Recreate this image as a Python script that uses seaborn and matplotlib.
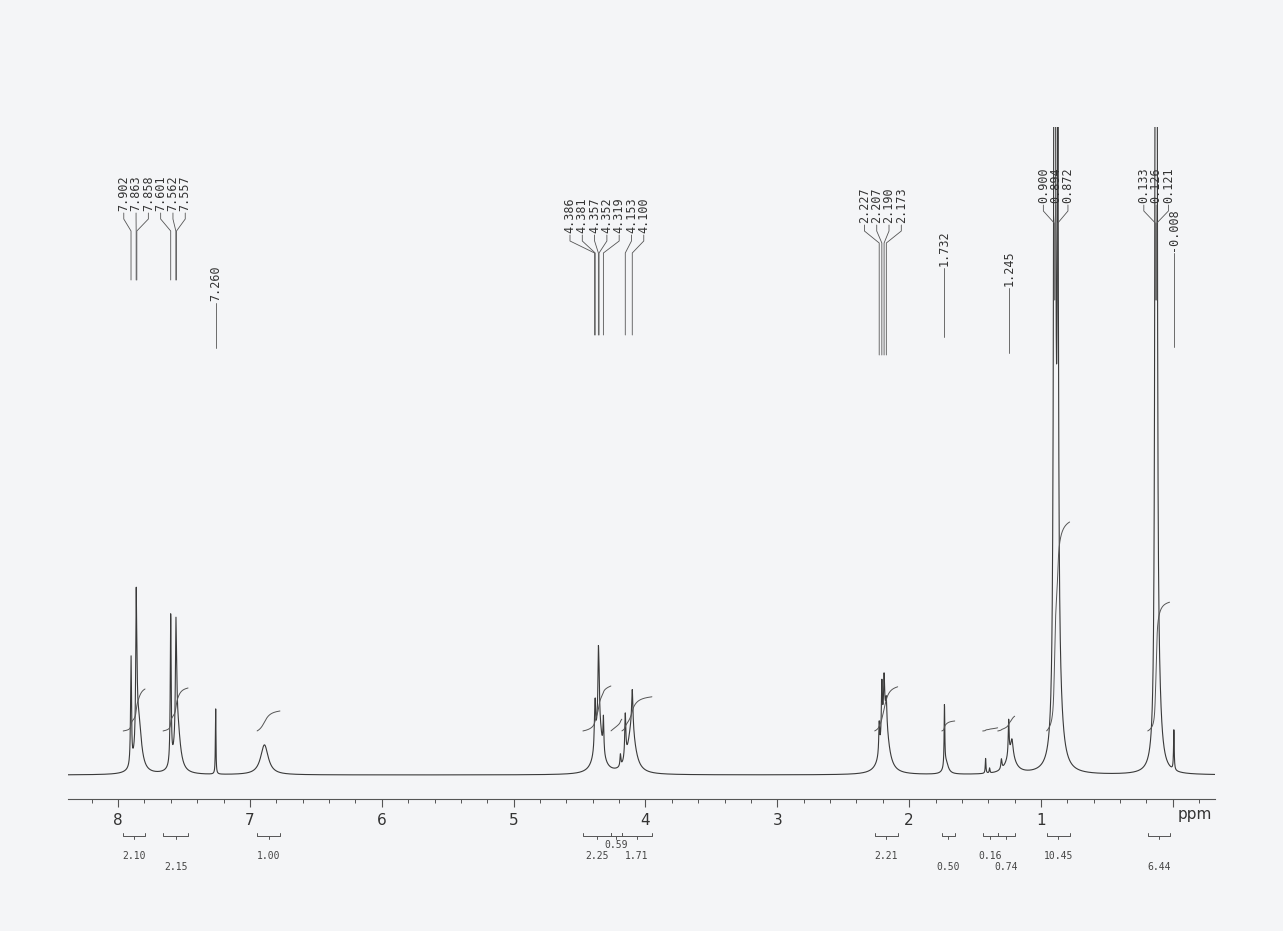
import numpy as np
import pandas as pd
import matplotlib
matplotlib.use("Agg")
import matplotlib.pyplot as plt
import seaborn as sns

# --- peak list (ppm, height in px above baseline, half width in ppm)
peak_ppm = [7.902, 7.863, 7.858, 7.845, 7.601, 7.562, 7.557, 7.55, 7.260, 6.89,
            4.386, 4.381, 4.357, 4.352, 4.319, 4.355, 4.19, 4.153, 4.100, 4.105,
            2.227, 2.207, 2.190, 2.173, 2.185, 1.732, 1.72,
            1.42, 1.39, 1.30, 1.245, 1.22, 1.23,
            0.900, 0.894, 0.872, 0.87, 0.133, 0.126, 0.121, 0.11, -0.008]
peak_height = [110, 130, 40, 55, 150, 95, 40, 50, 66, 30,
               20, 35, 60, 30, 35, 55, 12, 45, 40, 45,
               30, 50, 35, 20, 65, 62, 12,
               15, 5, 10, 35, 15, 20,
               500, 800, 500, 80, 500, 800, 500, 60, 40]
peak_width = [0.004, 0.004, 0.005, 0.025, 0.004, 0.004, 0.005, 0.025, 0.0025, 0.035,
              0.004, 0.004, 0.004, 0.004, 0.004, 0.03, 0.004, 0.005, 0.006, 0.035,
              0.004, 0.004, 0.004, 0.004, 0.03, 0.003, 0.02,
              0.003, 0.003, 0.005, 0.004, 0.01, 0.04,
              0.006, 0.006, 0.006, 0.03, 0.005, 0.005, 0.005, 0.025, 0.003]

# --- peak picking labels, grouped as printed
label_groups = [[7.902, 7.863, 7.858, 7.601, 7.562, 7.557],
                [7.260],
                [4.386, 4.381, 4.357, 4.352, 4.319, 4.153, 4.100],
                [2.227, 2.207, 2.190, 2.173],
                [1.732],
                [1.245],
                [0.900, 0.894, 0.872],
                [0.133, 0.126, 0.121],
                [-0.008]]
# (text bottom, line end) in image pixels from top
group_layout = [(213, 280), (303, 348), (235, 335), (225, 355), (268, 337),
                (288, 353), (205, 300), (205, 300), (253, 347)]

# --- integrals
integ_lo = [7.795, 7.469, 6.772, 4.262, 4.179, 3.951, 2.086, 1.654, 1.328, 1.199, 0.782, 0.024]
integ_hi = [7.962, 7.659, 6.946, 4.475, 4.262, 4.179, 2.261, 1.753, 1.442, 1.328, 0.957, 0.191]
integ_val = [2.10, 2.15, 1.00, 2.25, 0.59, 1.71, 2.21, 0.50, 0.16, 0.74, 10.45, 6.44]
integ_row = [1, 2, 1, 1, 0, 1, 1, 2, 1, 2, 1, 2]

tick_ppm = list(range(0, 9))
tick_text = ['', '1', '2', '3', '4', '5', '6', '7', '8']

# --- geometry helpers
W, H = 1283, 931
AXIS_Y = 799          # image row of the ppm axis
PX_PER_PPM = 131.9
BASE = 24             # baseline height above axis (px)
INT_START = 68        # where integral curves start
INT_SCALE = 20        # px per integral unit
INK = '#3a3a3a'
PAPER = '#f4f5f7'


def img_y(y):
    return AXIS_Y - y


def lorentz(x, x0, h, w):
    return h * w ** 2 / ((x - x0) ** 2 + w ** 2)


ppm = np.linspace(8.38, -0.32, 8000)
signal = np.full_like(ppm, BASE, dtype=float)
for p, h, w in zip(peak_ppm, peak_height, peak_width):
    signal += lorentz(ppm, p, h, w)
df = pd.DataFrame({'ppm': ppm, 'signal': signal})

sns.set_theme(style='ticks')
plt.rcParams['font.family'] = ['DejaVu Sans']

fig = plt.figure(figsize=(W / 100, H / 100), dpi=100, facecolor=PAPER)
ax = fig.add_axes([68 / W, (H - AXIS_Y) / H, (1215 - 68) / W, (AXIS_Y - 127) / H])
ax.set_facecolor(PAPER)

sns.lineplot(data=df, x='ppm', y='signal', ax=ax, color=INK, lw=0.8,
             estimator=None, sort=False)

ax.set_xlim(8.38, -0.32)
ax.set_ylim(0, AXIS_Y - 127)

# integral curves and brackets
for lo, hi, val, row in zip(integ_lo, integ_hi, integ_val, integ_row):
    m = (ppm <= hi) & (ppm >= lo)
    seg = signal[m] - BASE
    cum = np.cumsum(seg)
    cum = cum / cum[-1] * val * INT_SCALE
    ax.plot(ppm[m], INT_START + cum, color='#555555', lw=0.7)

    yb = img_y(836)
    ax.plot([hi, hi, lo, lo], [yb + 3, yb, yb, yb + 3], color='#555555', lw=0.7, clip_on=False)
    mid = (lo + hi) / 2
    ax.plot([mid, mid], [yb, yb - 3], color='#555555', lw=0.7, clip_on=False)
    ty = img_y([845, 856, 867][row])
    ax.text(mid, ty, f'{val:.2f}', ha='center', va='center', fontsize=7,
            family='DejaVu Sans Mono', color='#444444', clip_on=False)

# peak picking labels
step = 12.3 / PX_PER_PPM
for peaks, (tb, te) in zip(label_groups, group_layout):
    n = len(peaks)
    centre = np.mean(peaks)
    xs = centre + (np.arange(n) - (n - 1) / 2)[::-1] * step
    for xl, p in zip(xs, peaks):
        y0 = img_y(tb)
        ax.text(xl, y0 + 2, f'{p:.3f}', rotation=90, ha='center', va='bottom',
                fontsize=8.5, family='DejaVu Sans Mono', color='#333333')
        ax.plot([xl, xl, p, p], [y0, y0 - 6, y0 - 18, img_y(te)],
                color='#555555', lw=0.6)

# axis
sns.despine(ax=ax, left=True, top=True, right=True)
ax.spines['bottom'].set_color('#555555')
ax.spines['bottom'].set_linewidth(0.8)
ax.set_yticks([])
ax.set_xticks(tick_ppm)
ax.set_xticklabels(tick_text, fontsize=11, color='#333333')
ax.set_xticks(np.arange(-0.2, 8.4, 0.2), minor=True)
ax.tick_params(axis='x', which='major', direction='out', length=6, width=0.8,
               color='#555555', pad=4)
ax.tick_params(axis='x', which='minor', direction='out', length=3, width=0.7,
               color='#555555')
ax.set_xlabel('')
ax.set_ylabel('')
ax.text(-0.17, img_y(815), 'ppm', ha='center', va='center', fontsize=11,
        color='#333333', clip_on=False)

fig.savefig('out.png', dpi=100, facecolor=PAPER)
